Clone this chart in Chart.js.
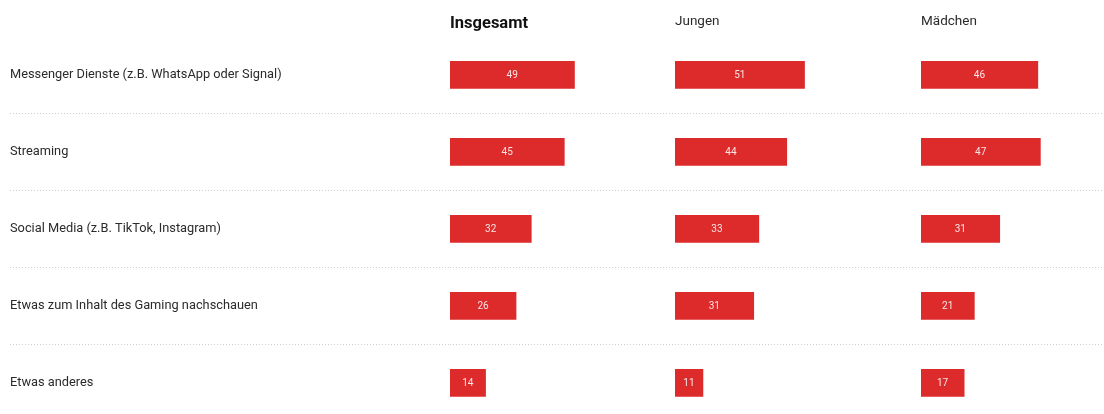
<!DOCTYPE html>
<html>
<head>
<meta charset="utf-8">
<script src="https://cdn.jsdelivr.net/npm/chart.js@4"></script>
<style>
  html, body { margin: 0; padding: 0; background: #fff; overflow: hidden; }
  canvas { display: block; }
</style>
</head>
<body>
<canvas id="chart" width="1104" height="432"></canvas>
<script>
const categories = [
  'Messenger Dienste (z.B. WhatsApp oder Signal)',
  'Streaming',
  'Social Media (z.B. TikTok, Instagram)',
  'Etwas zum Inhalt des Gaming nachschauen',
  'Etwas anderes',
];
const groups    = ['Insgesamt', 'Jungen', 'Mädchen'];
const insgesamt = [49, 45, 32, 26, 14];
const jungen    = [51, 44, 33, 31, 11];
const maedchen  = [46, 47, 31, 21, 17];

const RED  = '#dd2a2b';
const TEXT = '#2b2b2b';
const LINE = '#cfcfcf';

// column widths (px share) and matching axis ranges, ~2.54 px per percent
const colWeights = [225, 246, 183];
const colMax     = colWeights.map(w => w / 2.54);

const valueLabels = {
  id: 'valueLabels',
  afterDatasetsDraw(chart) {
    const ctx = chart.ctx;
    ctx.save();
    ctx.font = '10px Roboto';
    ctx.fillStyle = 'rgba(255,255,255,0.88)';
    ctx.textAlign = 'center';
    ctx.textBaseline = 'middle';
    chart.data.datasets.forEach((ds, i) => {
      chart.getDatasetMeta(i).data.forEach((bar, j) => {
        const p = bar.getCenterPoint();
        ctx.fillText(String(ds.data[j]), p.x, p.y + 0.5);
      });
    });
    ctx.restore();
  },
};

function xAxis(i, bold) {
  return {
    position: 'top',
    stack: 'cols',
    stackWeight: colWeights[i],
    min: 0,
    max: colMax[i],
    ticks: { display: false },
    grid: { display: false, drawTicks: false },
    border: { display: false },
    title: {
      display: true,
      text: groups[i],
      align: 'start',
      color: bold ? '#111' : TEXT,
      font: { family: 'Roboto', size: bold ? 16.5 : 13.5, weight: bold ? 'bold' : 'normal' },
      padding: { top: 4, bottom: 3 },
    },
  };
}

const gridColor = c => (c.index === 0 || c.index >= categories.length) ? 'rgba(0,0,0,0)' : LINE;

new Chart(document.getElementById('chart'), {
  type: 'bar',
  data: {
    labels: categories,
    datasets: [insgesamt, jungen, maedchen].map((d, i) => ({
      label: groups[i],
      data: d,
      xAxisID: 'x' + (i + 1),
      yAxisID: 'y',
      grouped: false,
      backgroundColor: RED,
      borderWidth: 0,
      barThickness: 27,
    })),
  },
  options: {
    indexAxis: 'y',
    responsive: false,
    animation: false,
    layout: { padding: { top: 9.5, bottom: 10, left: 10, right: 0 } },
    plugins: { legend: { display: false }, tooltip: { enabled: false } },
    scales: {
      // top boxes are laid out in reverse order
      x3: xAxis(2, false),
      x2: xAxis(1, false),
      x1: xAxis(0, true),
      y: {
        position: 'left',
        offset: true,
        grid: {
          offset: true,
          color: gridColor,
          tickColor: gridColor,
          tickLength: 440,
          tickBorderDash: [1, 2],
          lineWidth: 1,
        },
        border: { display: false, dash: [1, 2] },
        ticks: {
          crossAlign: 'far',
          autoSkip: false,
          color: TEXT,
          font: { family: 'Roboto', size: 12.8 },
        },
        afterFit(scale) { scale.width = 440; },
      },
    },
  },
  plugins: [valueLabels],
});
</script>
</body>
</html>
